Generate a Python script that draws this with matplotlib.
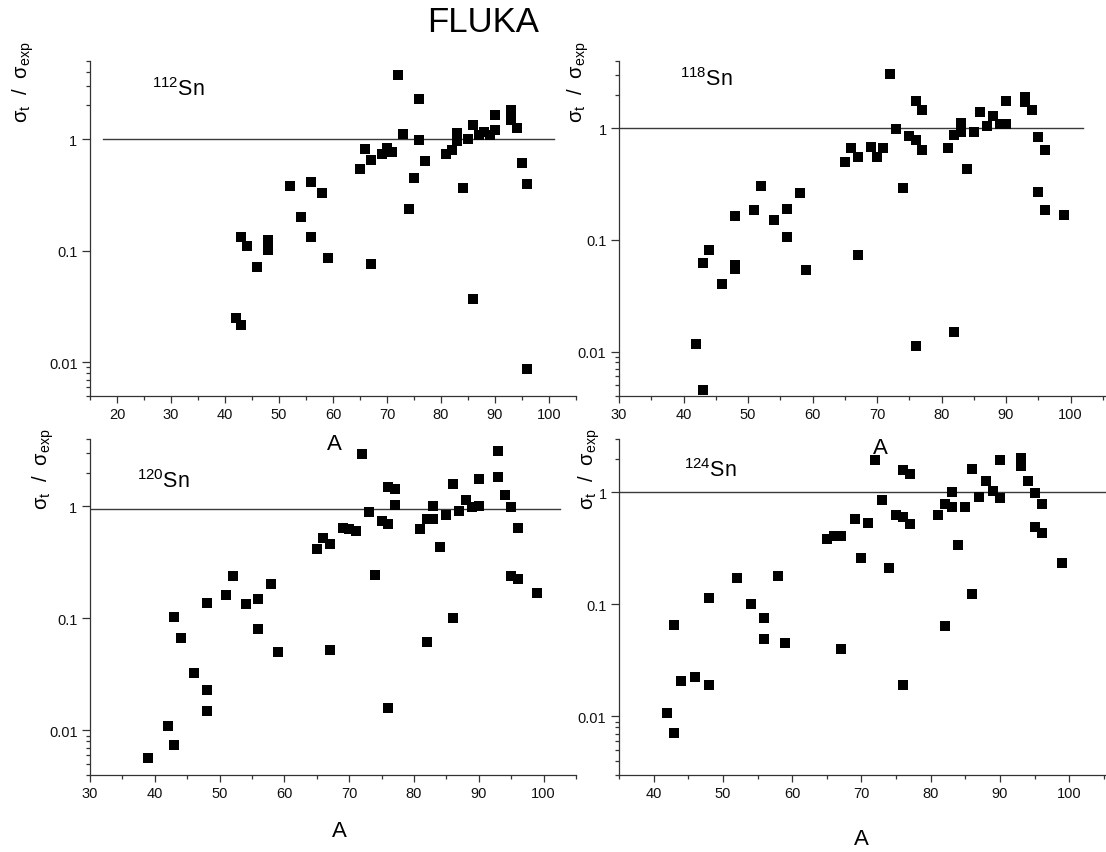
import matplotlib
matplotlib.use('Agg')
import matplotlib.pyplot as plt
from matplotlib.ticker import FixedLocator, FixedFormatter, NullFormatter

plt.rcParams['font.family'] = ['Liberation Sans', 'DejaVu Sans']
plt.rcParams['mathtext.fontset'] = 'custom'
plt.rcParams['mathtext.rm'] = 'Liberation Sans'
plt.rcParams['mathtext.it'] = 'Liberation Sans'
plt.rcParams['mathtext.bf'] = 'Liberation Sans:bold'

# ---------------- data (A, sigma_t / sigma_exp) ----------------
A_112 = [42, 43, 43, 44, 46, 48, 48, 52, 54, 56, 56, 58, 59, 65, 66, 67, 67, 69, 70, 71,
         72, 73, 74, 75, 76, 76, 77, 81, 82, 83, 83, 84, 85, 86, 86, 87, 88, 89, 90, 90,
         93, 93, 94, 95, 96, 96]
R_112 = [0.0248, 0.0217, 0.134, 0.111, 0.071, 0.126, 0.102, 0.382, 0.201, 0.415, 0.134,
         0.328, 0.0853, 0.542, 0.808, 0.648, 0.0765, 0.734, 0.825, 0.77,
         3.77, 1.12, 0.234, 0.45, 2.27, 0.973, 0.63, 0.729, 0.797, 1.14, 0.966, 0.362,
         1.01, 1.33, 0.0369, 1.09, 1.15, 1.09, 1.2, 1.64, 1.82, 1.47, 1.25, 0.605, 0.398, 0.0087]

A_118 = [42, 43, 43, 44, 46, 48, 48, 48, 51, 52, 54, 56, 56, 58, 59, 65, 66, 67, 67, 69,
         70, 71, 72, 73, 74, 75, 76, 76, 76, 77, 77, 81, 82, 82, 83, 83, 84, 85, 86, 87,
         88, 89, 90, 90, 93, 93, 94, 95, 95, 96, 96, 99]
R_118 = [0.0116, 0.00456, 0.0615, 0.0816, 0.0404, 0.165, 0.059, 0.055, 0.187, 0.306, 0.151,
         0.188, 0.106, 0.261, 0.054, 0.496, 0.662, 0.55, 0.0736, 0.676,
         0.553, 0.671, 3.09, 0.98, 0.29, 0.848, 1.77, 0.791, 0.0112, 1.46, 0.639,
         0.671, 0.865, 0.015, 1.12, 0.921, 0.429, 0.927, 1.41, 1.05,
         1.3, 1.08, 1.09, 1.77, 1.9, 1.73, 1.46, 0.842, 0.267, 0.639, 0.185, 0.166]

A_120 = [39, 42, 43, 43, 44, 46, 48, 48, 48, 51, 52, 54, 56, 56, 58, 59, 65, 66, 67, 67,
         69, 70, 71, 72, 73, 74, 75, 76, 76, 76, 77, 77, 81, 82, 82, 83, 83, 84, 85, 86,
         86, 87, 88, 89, 90, 90, 93, 93, 94, 95, 95, 96, 96, 99]
R_120 = [0.00565, 0.01086, 0.0074, 0.1024, 0.0664, 0.0325, 0.023, 0.0148, 0.137, 0.1625,
         0.239, 0.135, 0.1486, 0.081, 0.202, 0.05, 0.417, 0.527, 0.463, 0.0522,
         0.639, 0.626, 0.609, 2.91, 0.884, 0.245, 0.743, 1.48, 0.704, 0.016, 1.42, 1.04,
         0.626, 0.775, 0.0615, 0.775, 1.0, 0.438, 0.83, 1.57,
         0.101, 0.902, 1.13, 0.98, 1.0, 1.75, 3.11, 1.83, 1.26, 0.99, 0.239, 0.644, 0.223, 0.167]

A_124 = [42, 43, 43, 44, 46, 48, 48, 52, 54, 56, 56, 58, 59, 65, 66, 67, 67, 69, 70, 71,
         72, 73, 74, 75, 76, 76, 76, 77, 77, 81, 82, 82, 83, 83, 84, 85, 86, 86, 87, 88,
         89, 90, 90, 93, 93, 94, 95, 95, 96, 96, 99]
R_124 = [0.0107, 0.00715, 0.0658, 0.0207, 0.0226, 0.019, 0.114, 0.172, 0.101, 0.0755,
         0.049, 0.18, 0.0452, 0.383, 0.41, 0.41, 0.0399, 0.578, 0.259, 0.536,
         1.94, 0.855, 0.211, 0.628, 1.58, 0.606, 0.019, 1.46, 0.525, 0.628, 0.787, 0.0645,
         1.0, 0.745, 0.341, 0.745, 1.63, 0.123, 0.902, 1.27,
         1.02, 1.93, 0.89, 2.01, 1.71, 1.27, 0.98, 0.494, 0.792, 0.43, 0.235]

ISOTOPES = ['112', '118', '120', '124']
Y_MAJOR = [0.01, 0.1, 1]
Y_MAJOR_LABELS = ['0.01', '0.1', '1']

# ---------------- layout ----------------
W, H = 1106, 853
fig = plt.figure(figsize=(W / 100, H / 100), dpi=100)


def rect(x0, y_bot, w, h):
    return [x0 / W, 1 - y_bot / H, w / W, h / H]


def fxy(x, y):
    return x / W, 1 - y / H


panels = [
    dict(A=A_112, R=R_112, iso=ISOTOPES[0], rect=rect(90, 397, 486, 335),
         xlim=(15, 105), ylim=(0.005, 5), xmaj=list(range(20, 101, 10)),
         ymin=[0.005, 0.006, 0.007, 0.008, 0.009, 2, 3, 4, 5], line=(17.5, 101), lineval=1.0,
         iso_xy=(152, 96), ylab_xy=(23, 82), xlab_xy=(334, 445)),
    dict(A=A_118, R=R_118, iso=ISOTOPES[1], rect=rect(619, 397, 487, 335),
         xlim=(30, 105.5), ylim=(0.004, 4), xmaj=list(range(30, 101, 10)),
         ymin=[0.004, 0.005, 0.006, 0.007, 0.008, 0.009, 2, 3, 4], line=(30, 102), lineval=1.0,
         iso_xy=(680, 86), ylab_xy=(578, 82), xlab_xy=(880, 448)),
    dict(A=A_120, R=R_120, iso=ISOTOPES[2], rect=rect(90, 776, 486, 336),
         xlim=(30, 105), ylim=(0.004, 4), xmaj=list(range(30, 101, 10)),
         ymin=[0.004, 0.005, 0.006, 0.007, 0.008, 0.009, 2, 3, 4], line=(30, 102.6), lineval=0.95,
         iso_xy=(137, 488), ylab_xy=(43, 469), xlab_xy=(339, 832)),
    dict(A=A_124, R=R_124, iso=ISOTOPES[3], rect=rect(619, 776, 487, 336),
         xlim=(35, 105.3), ylim=(0.003, 3), xmaj=list(range(40, 101, 10)),
         ymin=[0.003, 0.004, 0.005, 0.006, 0.007, 0.008, 0.009, 2, 3], line=(35, 105.3), lineval=1.0,
         iso_xy=(684, 477), ylab_xy=(589, 469), xlab_xy=(861, 840)),
]

AX_COL = '#333333'
for p in panels:
    ax = fig.add_axes(p['rect'])
    ax.set_yscale('log')
    ax.set_xlim(*p['xlim'])
    ax.set_ylim(*p['ylim'])
    ax.patch.set_alpha(0)
    for s in ('top', 'right'):
        ax.spines[s].set_visible(False)
    for s in ('left', 'bottom'):
        ax.spines[s].set_color(AX_COL)
        ax.spines[s].set_linewidth(0.9)

    ax.plot([p['line'][0], p['line'][1]], [p['lineval'], p['lineval']],
            color='#3a3a3a', lw=1.0, zorder=2)
    ax.plot(p['A'], p['R'], 's', color='black', ms=7.4, mew=0, zorder=3)

    ax.xaxis.set_major_locator(FixedLocator(p['xmaj']))
    minors = [v for v in range(int(p['xlim'][0]) // 5 * 5, 106, 5) if v not in p['xmaj']
              and p['xlim'][0] <= v <= p['xlim'][1]]
    ax.xaxis.set_minor_locator(FixedLocator(minors))
    ax.yaxis.set_major_locator(FixedLocator(Y_MAJOR))
    ax.yaxis.set_major_formatter(FixedFormatter(Y_MAJOR_LABELS))
    ax.yaxis.set_minor_locator(FixedLocator(p['ymin']))
    ax.yaxis.set_minor_formatter(NullFormatter())
    ax.tick_params(axis='both', which='major', direction='out', length=5, width=0.9,
                   color=AX_COL, labelsize=10.5, labelcolor='#111111', pad=3)
    ax.tick_params(axis='both', which='minor', direction='out', length=3, width=0.9,
                   color=AX_COL)
    ax.tick_params(axis='y', which='major', length=6)

    x, y = fxy(*p['iso_xy'])
    fig.text(x, y, r'$^{%s}$Sn' % p['iso'], fontsize=15.5, ha='left', va='baseline')
    x, y = fxy(*p['ylab_xy'])
    fig.text(x, y, r'$\sigma_{t}\ \ /\ \ \sigma_{exp}$', fontsize=14.5, rotation=90,
             ha='center', va='center')
    x, y = fxy(*p['xlab_xy'])
    fig.text(x, y, 'A', fontsize=16, ha='center', va='center')

x, y = fxy(483, 22)
fig.text(x, y, 'FLUKA', fontsize=25, ha='center', va='center')

fig.savefig('out.png', dpi=100)
